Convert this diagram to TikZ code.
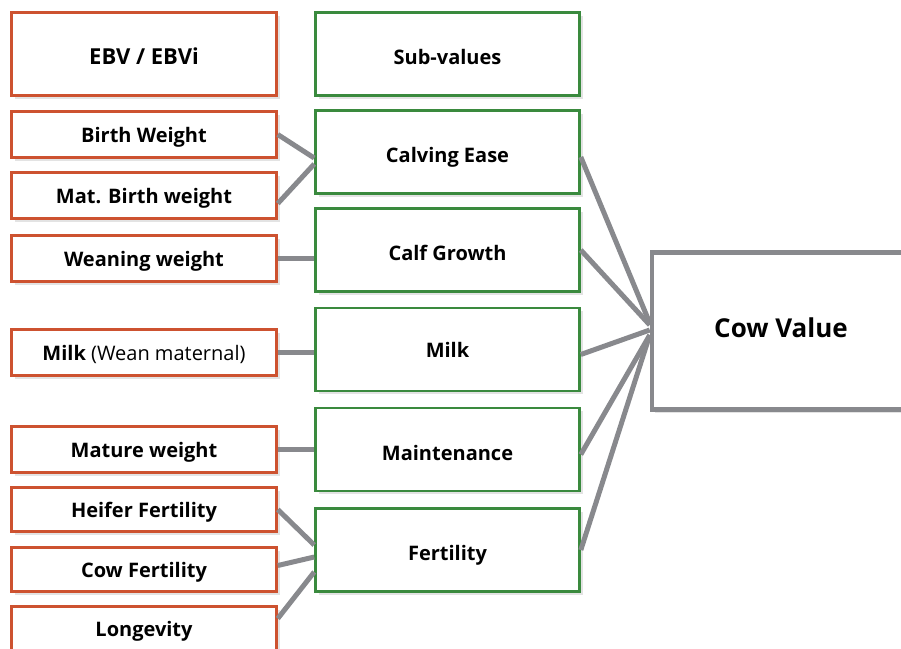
\documentclass[tikz,border=0pt]{standalone}
\usepackage{fontspec}
\setmainfont{Open Sans}
\usepackage{tikz}
\usetikzlibrary{shadows}
\definecolor{ebvred}{RGB}{205,82,48}
\definecolor{subgreen}{RGB}{58,138,62}
\definecolor{linkgray}{RGB}{136,137,141}

\begin{document}
\begin{tikzpicture}[
    x=1pt, y=-1pt,
    font=\fontsize{20}{24}\selectfont\bfseries,
    box/.style={draw, fill=white, line width=2.6pt, inner sep=0pt, minimum width=265pt,
        text height=16.5pt, text depth=0pt,
        drop shadow={shadow xshift=3pt, shadow yshift=-3pt, opacity=.22}},
    ebv/.style={box, draw=ebvred, minimum height=#1},
    ebv/.default=46pt,
    sub/.style={box, draw=subgreen, minimum width=264pt, minimum height=83pt, text height=21pt},
    total/.style={box, draw=linkgray, line width=4.5pt, minimum width=258pt,
        minimum height=157pt, text height=13pt, font=\fontsize{26}{30}\selectfont\bfseries},
    link/.style={draw=linkgray, line width=5pt}
]
\useasboundingbox (0,0) rectangle (901,648);
% EBV column
\node[ebv=83pt, text height=20pt, font=\fontsize{22}{26}\selectfont\bfseries] (ebvhead) at (144,54) {EBV / EBVi};
\node[ebv] (bw) at (144,134.5) {Birth Weight};
\node[ebv] (mbw) at (144,195.5) {Mat. Birth weight};
\node[ebv] (ww) at (144,258.5) {Weaning weight};
\node[ebv] (mwm) at (144,352.5) {Milk {\mdseries(Wean maternal)}};
\node[ebv] (mw) at (144,449.5) {Mature weight};
\node[ebv=44pt] (hf) at (144,509.5) {Heifer Fertility};
\node[ebv=44pt] (cf) at (144,569.5) {Cow Fertility};
\node[ebv=44pt] (lg) at (144,628.5) {Longevity};
% sub-value column
\node[sub] (subhead) at (447.5,54) {Sub-values};
\node[sub] (ce) at (447.5,152) {Calving Ease};
\node[sub] (cg) at (447.5,250) {Calf Growth};
\node[sub, text height=16pt] (mk) at (447.5,349.5) {Milk};
\node[sub] (mt) at (447.5,449.5) {Maintenance};
\node[sub] (fe) at (447.5,550) {Fertility};
% index
\node[total] (cv) at (781,331) {Cow Value};
% EBV -> sub-values
\draw[link] (bw.east) -- ([yshift=-6pt]ce.west);
\draw[link] ([yshift=-8pt]mbw.east) -- ([yshift=-12pt]ce.west);
\draw[link] (ww.east) -- (ww.east -| cg.west);
\draw[link] (mwm.east) -- (mwm.east -| mk.west);
\draw[link] (mw.east) -- (mw.east -| mt.west);
\draw[link] (hf.east) -- ([yshift=5pt]fe.west);
\draw[link] ([yshift=4pt]cf.east) -- ([yshift=-7pt]fe.west);
\draw[link] ([yshift=10pt]lg.east) -- ([yshift=-22pt]fe.west);
% sub-values -> cow value
\draw[link] ([yshift=-5pt]ce.east) -- ([yshift=8pt]cv.west);
\draw[link] (cg.east) -- ([yshift=6pt]cv.west);
\draw[link] ([yshift=-5pt]mk.east) -- ([yshift=1pt]cv.west);
\draw[link] ([yshift=-5pt]mt.east) -- ([yshift=-4pt]cv.west);
\draw[link] (fe.east) -- ([yshift=-4pt]cv.west);
\end{tikzpicture}
\end{document}
